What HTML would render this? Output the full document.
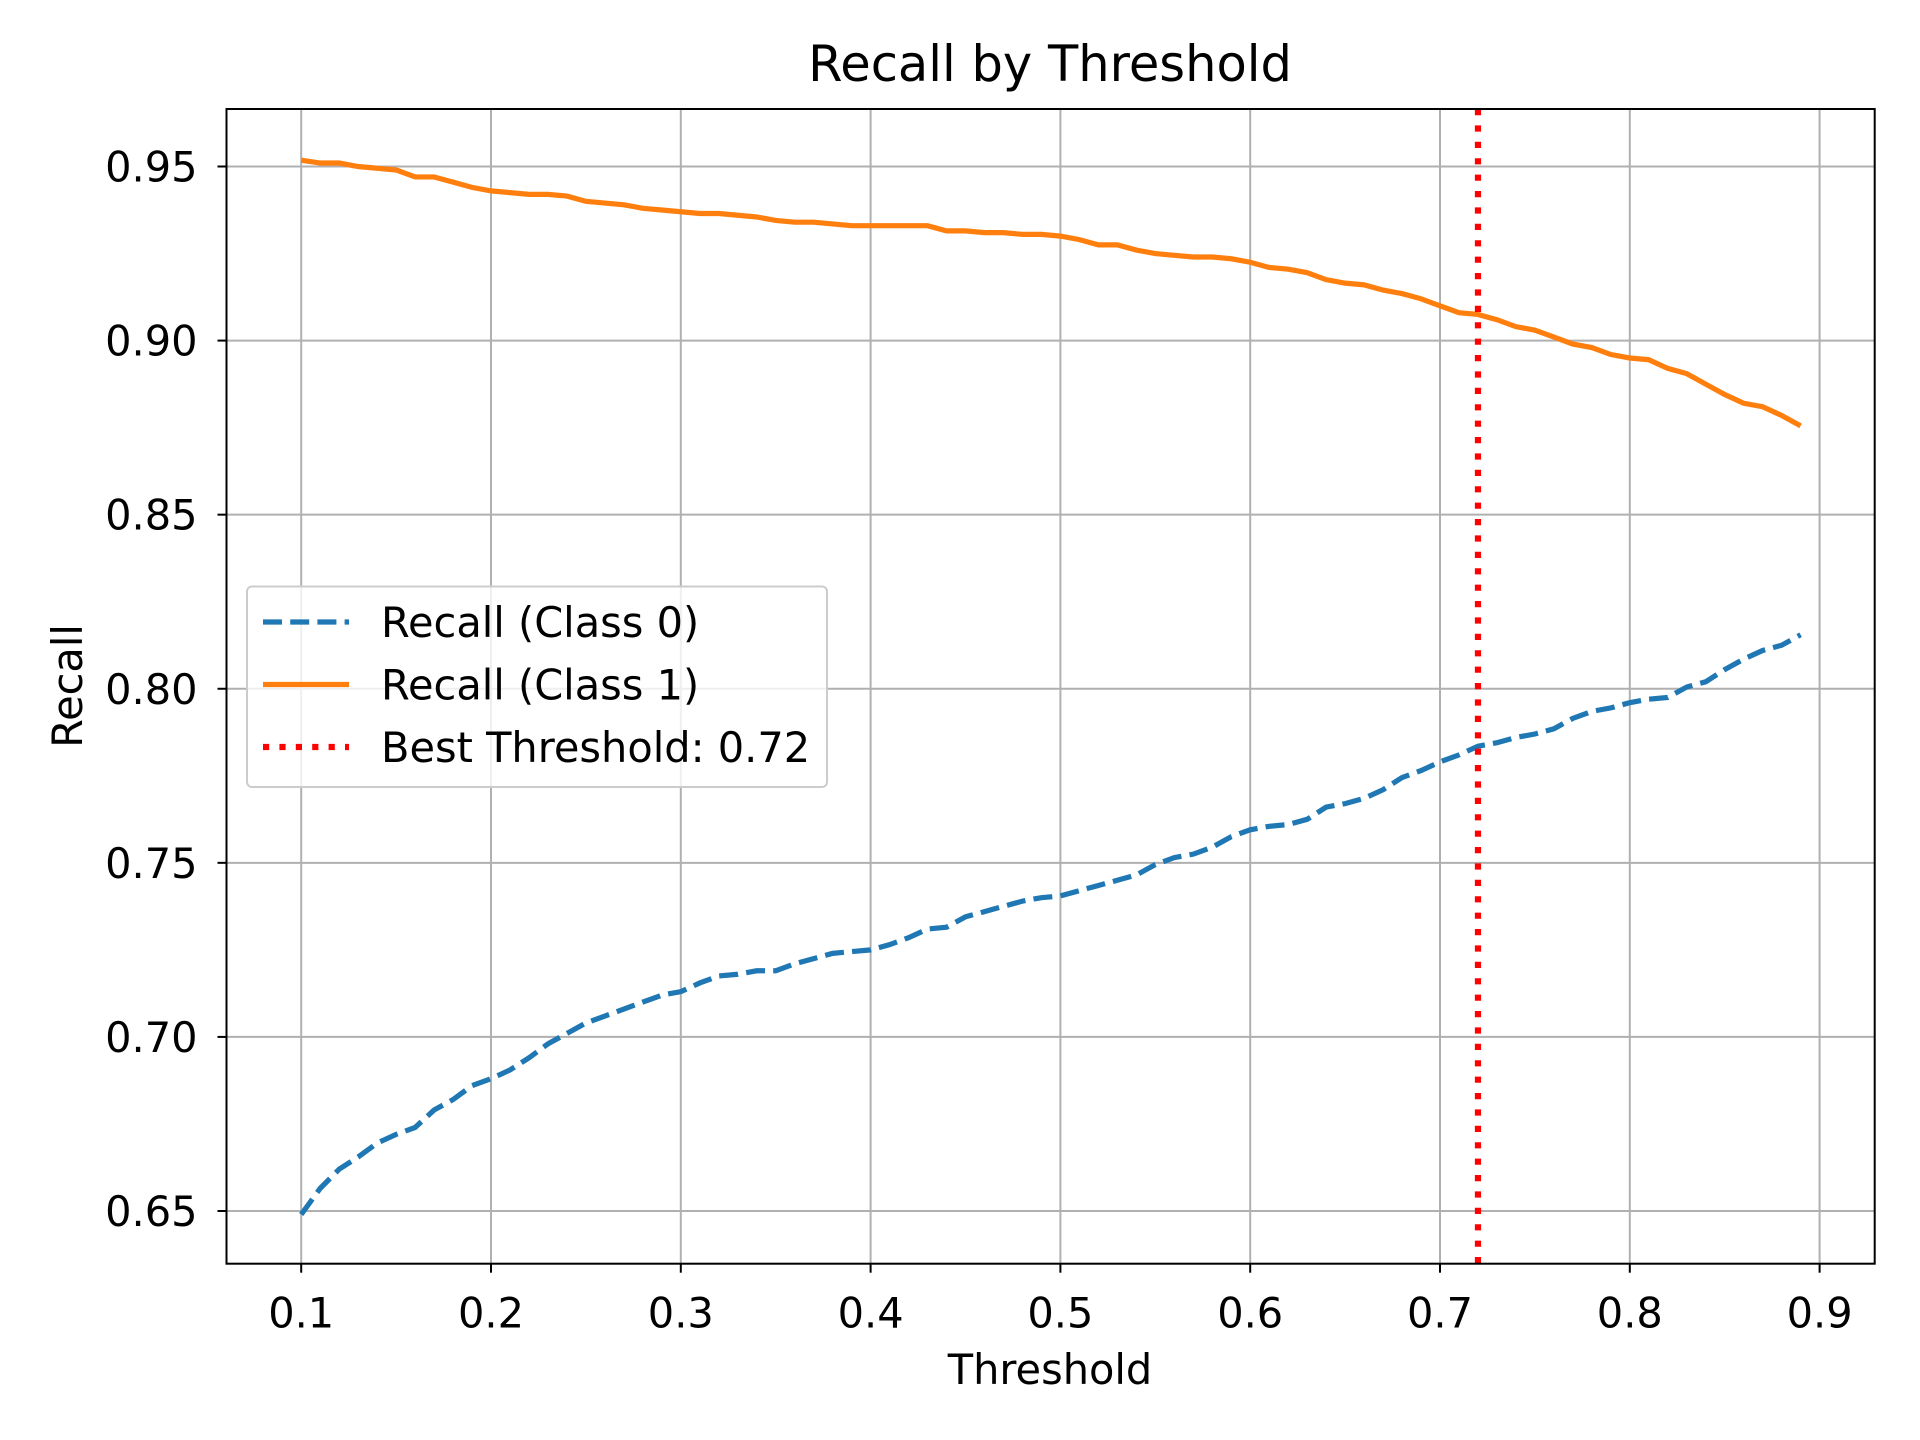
<!DOCTYPE html>
<html><head><meta charset="utf-8"><style>
html,body{margin:0;padding:0;background:#fff;}
svg{display:block;font-family:"DejaVu Sans","Liberation Sans",sans-serif;}
</style></head><body>
<svg id="chart" width="1920" height="1440" viewBox="0 0 1920 1440" xmlns="http://www.w3.org/2000/svg">
<rect x="0" y="0" width="1920" height="1440" fill="#fff"/>
<g id="grid"></g>
<g id="series"></g>
<rect x="226.5" y="109" width="1648.2" height="1154.7" fill="none" stroke="#000" stroke-width="2"/>
<g id="ticks"></g>
<text x="1050" y="81" font-size="49.5" text-anchor="middle">Recall by Threshold</text>
<text x="1050" y="1384" font-size="41.5" text-anchor="middle">Threshold</text>
<text x="0" y="0" font-size="41.5" text-anchor="middle" transform="translate(82,686) rotate(-90)">Recall</text>
<g>
<rect x="247" y="586.5" width="580" height="200.5" rx="5" fill="#fff" fill-opacity="0.8" stroke="#ccc" stroke-width="2"/>
<line x1="263" y1="622" x2="349" y2="622" stroke="#1f77b4" stroke-width="5.2" stroke-dasharray="19,8.2"/>
<text x="381" y="637" font-size="41.5">Recall (Class 0)</text>
<line x1="263" y1="684.5" x2="349" y2="684.5" stroke="#ff7f0e" stroke-width="5.2"/>
<text x="381" y="699.5" font-size="41.5">Recall (Class 1)</text>
<line x1="263" y1="747" x2="349" y2="747" stroke="#ff0000" stroke-width="6.2" stroke-dasharray="6.2,10.2"/>
<text x="381" y="762" font-size="41.5">Best Threshold: 0.72</text>
</g>
</svg>
<script>
const thresholds = [];
for (let i = 10; i <= 89; i++) thresholds.push(i / 100);
const recallClass1 = [0.9518,0.951,0.951,0.950,0.9495,0.949,0.947,0.947,0.9455,0.944,0.943,0.9425,0.942,0.942,0.9415,0.940,0.9395,0.939,0.938,0.9375,0.937,0.9365,0.9365,0.936,0.9355,0.9345,0.934,0.934,0.9335,0.933,0.933,0.933,0.933,0.933,0.9315,0.9315,0.931,0.931,0.9305,0.9305,0.930,0.929,0.9275,0.9275,0.926,0.925,0.9245,0.924,0.924,0.9235,0.9225,0.921,0.9205,0.9195,0.9175,0.9165,0.916,0.9145,0.9135,0.912,0.910,0.908,0.9075,0.906,0.904,0.903,0.901,0.899,0.898,0.896,0.895,0.8945,0.892,0.8905,0.8875,0.8845,0.882,0.881,0.8785,0.8755];
const recallClass0 = [0.649,0.6565,0.662,0.6655,0.6695,0.672,0.674,0.679,0.682,0.686,0.688,0.6905,0.694,0.698,0.701,0.704,0.706,0.708,0.710,0.712,0.713,0.7155,0.7175,0.718,0.719,0.719,0.721,0.7225,0.724,0.7245,0.725,0.7265,0.7285,0.731,0.7315,0.7345,0.736,0.7375,0.739,0.740,0.7405,0.742,0.7435,0.745,0.7465,0.7495,0.7515,0.7525,0.7545,0.7575,0.7595,0.7605,0.761,0.7625,0.766,0.767,0.7685,0.771,0.7745,0.7765,0.779,0.781,0.7835,0.7845,0.786,0.787,0.7885,0.7915,0.7935,0.7945,0.796,0.797,0.7975,0.8005,0.802,0.8055,0.8085,0.811,0.8125,0.8155];
const bestThreshold = 0.72;
const xTicks = [0.1,0.2,0.3,0.4,0.5,0.6,0.7,0.8,0.9];
const yTicks = [0.65,0.70,0.75,0.80,0.85,0.90,0.95];
const xTickLabels = ["0.1","0.2","0.3","0.4","0.5","0.6","0.7","0.8","0.9"];
const yTickLabels = ["0.65","0.70","0.75","0.80","0.85","0.90","0.95"];

const NS = "http://www.w3.org/2000/svg";
const L = 226.5, R = 1874.7, T = 109, B = 1263.7;
function xs(v){ return 301.2 + (v - 0.1) / 0.8 * (1819.6 - 301.2); }
function ys(v){ return 166.5 + (0.95 - v) / 0.30 * (1211 - 166.5); }
function mk(tag, attrs, parent){
  const e = document.createElementNS(NS, tag);
  for (const k in attrs) e.setAttribute(k, attrs[k]);
  parent.appendChild(e); return e;
}
const grid = document.getElementById('grid');
const ticks = document.getElementById('ticks');
const series = document.getElementById('series');
xTicks.forEach((v, i) => {
  const x = xs(v);
  const g = mk('line', {x1:x, y1:T, x2:x, y2:B, stroke:'#b0b0b0', 'stroke-width':2}, grid);
  
  
  const t = mk('line', {x1:x, y1:B, x2:x, y2:B+9, stroke:'#000', 'stroke-width':2}, ticks);
  
  
  const lb = mk('text', {x:x, y:B+64, 'font-size':41.5, 'text-anchor':'middle'}, ticks);
  lb.textContent = xTickLabels[i];
  
  
});
yTicks.forEach((v, i) => {
  const y = ys(v);
  const g = mk('line', {x1:L, y1:y, x2:R, y2:y, stroke:'#b0b0b0', 'stroke-width':2}, grid);
  
  
  const t = mk('line', {x1:L-9, y1:y, x2:L, y2:y, stroke:'#000', 'stroke-width':2}, ticks);
  
  
  const lb = mk('text', {x:L-29, y:y+15, 'font-size':41.5, 'text-anchor':'end'}, ticks);
  lb.textContent = yTickLabels[i];
  
  
});
function pts(arr){ return arr.map((v, i) => xs(thresholds[i]).toFixed(2) + ',' + ys(v).toFixed(2)).join(' '); }
const l0 = mk('polyline', {points:pts(recallClass0), fill:'none', stroke:'#1f77b4', 'stroke-width':5.2, 'stroke-dasharray':'19,8.2'}, series);


const l1 = mk('polyline', {points:pts(recallClass1), fill:'none', stroke:'#ff7f0e', 'stroke-width':5.2}, series);


const bx = xs(bestThreshold);
const bl = mk('line', {x1:bx, y1:T, x2:bx, y2:B, stroke:'#ff0000', 'stroke-width':6.2, 'stroke-dasharray':'6.2,10.2'}, series);


</script>
</body></html>
